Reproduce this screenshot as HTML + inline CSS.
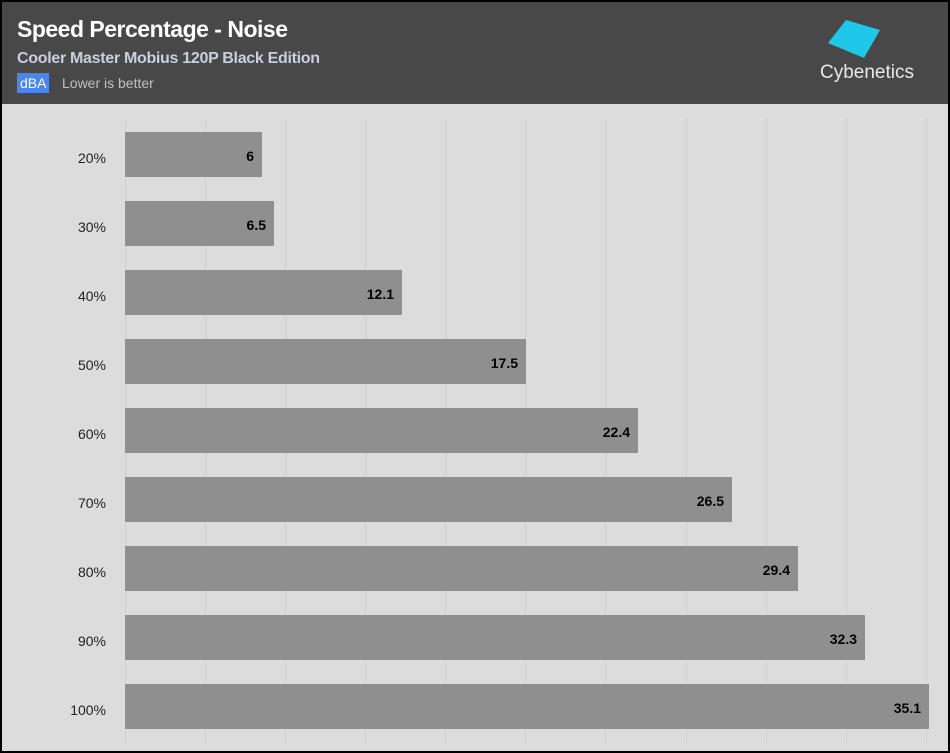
<!DOCTYPE html><html><head><style>
body{margin:0;width:950px;height:753px;overflow:hidden;font-family:"Liberation Sans",sans-serif}
.f{position:absolute;left:0;top:0;width:946px;height:749px;border:2px solid #000;background:#dcdcdc}
.h{position:absolute;left:0;top:0;width:946px;height:102px;background:#484848}
.t{position:absolute;left:15px;top:14px;color:#fff;font-size:23px;font-weight:bold;letter-spacing:-0.5px}
.s{position:absolute;left:15px;top:48px;color:#c8d0dc;font-size:16px;font-weight:bold;letter-spacing:-0.3px}
.b{position:absolute;left:15px;top:71px;background:#4a86f0;color:#fff;font-size:14px;padding:2px 3px;line-height:16px}
.l{position:absolute;left:60px;top:73px;color:#c0c0c0;font-size:14px}
.g{position:absolute;top:116px;height:625px;width:1px;background:#cfcfcf}
.bar{position:absolute;left:123px;height:45px;background:#8f8f8f}
.v{position:absolute;right:8px;top:16px;font-size:14px;font-weight:bold;color:#000}
.y{position:absolute;left:40px;width:64px;text-align:right;font-size:14px;color:#222}
</style></head><body><div class="f">
<div class="h">
<div class="t">Speed Percentage - Noise</div>
<div class="s">Cooler Master Mobius 120P Black Edition</div>
<div class="b">dBA</div><div class="l">Lower is better</div>
<svg style="position:absolute;left:818px;top:16px" width="70" height="48"><polygon points="8,25 26,2 60,12 44,40" fill="#1ec8e8"/></svg>
<div style="position:absolute;left:818px;top:60px;color:#e8e8e8;font-size:19px">Cybenetics</div>
</div>
<div class="g" style="left:123px"></div><div class="g" style="left:203px"></div><div class="g" style="left:283px"></div><div class="g" style="left:363px"></div><div class="g" style="left:443px"></div><div class="g" style="left:523px"></div><div class="g" style="left:603px"></div><div class="g" style="left:684px"></div><div class="g" style="left:764px"></div><div class="g" style="left:844px"></div><div class="g" style="left:924px"></div>
<div class="bar" style="top:130px;width:137px"><span class="v">6</span></div><div class="y" style="top:148px">20%</div>
<div class="bar" style="top:199px;width:149px"><span class="v">6.5</span></div><div class="y" style="top:217px">30%</div>
<div class="bar" style="top:268px;width:277px"><span class="v">12.1</span></div><div class="y" style="top:286px">40%</div>
<div class="bar" style="top:337px;width:401px"><span class="v">17.5</span></div><div class="y" style="top:355px">50%</div>
<div class="bar" style="top:406px;width:513px"><span class="v">22.4</span></div><div class="y" style="top:424px">60%</div>
<div class="bar" style="top:475px;width:607px"><span class="v">26.5</span></div><div class="y" style="top:493px">70%</div>
<div class="bar" style="top:544px;width:673px"><span class="v">29.4</span></div><div class="y" style="top:562px">80%</div>
<div class="bar" style="top:613px;width:740px"><span class="v">32.3</span></div><div class="y" style="top:631px">90%</div>
<div class="bar" style="top:682px;width:804px"><span class="v">35.1</span></div><div class="y" style="top:700px">100%</div>
</div></body></html>
